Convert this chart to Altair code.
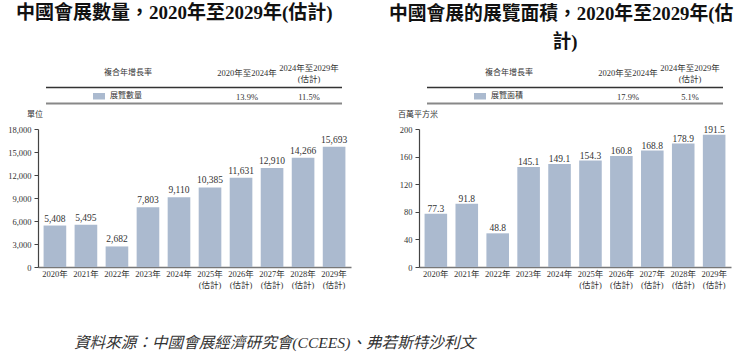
import altair as alt
import pandas as pd

# ---------------- data ----------------
years = ["2020年", "2021年", "2022年", "2023年", "2024年",
         "2025年\n(估計)", "2026年\n(估計)", "2027年\n(估計)", "2028年\n(估計)", "2029年\n(估計)"]
exhibitions = [5408, 5495, 2682, 7803, 9110, 10385, 11631, 12910, 14266, 15693]
exhibition_area = [77.3, 91.8, 48.8, 145.1, 149.1, 154.3, 160.8, 168.8, 178.9, 191.5]
left_ticks = [0, 3000, 6000, 9000, 12000, 15000, 18000]
right_ticks = [0, 40, 80, 120, 160, 200]
cagr_header = "複合年增長率"
cagr_period1 = "2020年至2024年"
cagr_period2 = ["2024年至2029年", "(估計)"]
left_series = "展覽數量"
right_series = "展覽面積"
left_cagr = ["13.9%", "11.5%"]
right_cagr = ["17.9%", "5.1%"]
left_title = "中國會展數量，2020年至2029年(估計)"
right_title_lines = ["中國會展的展覽面積，2020年至2029年(估", "計)"]
left_unit = "單位"
right_unit = "百萬平方米"
source = "資料來源：中國會展經濟研究會(CCEES)、弗若斯特沙利文"

# ---------------- style ----------------
W, H = 738, 357
BASE = 267
TOP = 129
SERIF = "Liberation Serif, Noto Sans CJK TC"
BAR = "#abbacf"
TXT = "#333333"


def panel(values, ticks, ymax, fmt, x0, x1, dy):
    df = pd.DataFrame({"year": years, "value": values})
    x = alt.X("year:N", sort=years,
              scale=alt.Scale(range=[x0, x1], paddingInner=0.27, paddingOuter=0.18),
              axis=alt.Axis(orient="bottom", offset=-(H - BASE), title=None, labelAngle=0,
                            ticks=False, labelExpr="split(datum.value, '\\n')",
                            labelFont=SERIF, labelFontSize=8.5, labelColor=TXT,
                            labelPadding=2, labelLineHeight=11.5,
                            domainColor="#777777", domainWidth=1.5))
    y = alt.Y("value:Q",
              scale=alt.Scale(domain=[0, ymax], range=[BASE, TOP], nice=False),
              axis=alt.Axis(orient="left", offset=-x0, values=ticks,
                            labelExpr="format(datum.value, ',')",
                            grid=False, title=None, tickSize=4, tickColor="#444444",
                            domainColor="#444444", domainWidth=1.2,
                            labelFont=SERIF, labelFontSize=8.5, labelColor=TXT,
                            labelPadding=3))
    bars = alt.Chart(df).mark_bar(color=BAR).encode(x=x, y=y)
    labels = alt.Chart(df).mark_text(font=SERIF, fontSize=9.5, color=TXT,
                                     baseline="alphabetic", dy=dy).encode(
        x=x, y=y, text=alt.Text("value:Q", format=fmt))
    return alt.layer(bars, labels)


def txt(s, x, y, size=8.5, align="center", baseline="middle", **kw):
    return alt.Chart(pd.DataFrame({"a": [0]})).mark_text(
        font=SERIF, fontSize=size, align=align, baseline=baseline, color=kw.pop("color", TXT), **kw
    ).encode(x=alt.value(x), y=alt.value(y), text=alt.value(s))


def rule(x1, x2, y, color, width):
    return alt.Chart(pd.DataFrame({"a": [0]})).mark_rule(color=color, strokeWidth=width).encode(
        x=alt.value(x1), x2=alt.value(x2), y=alt.value(y))


def swatch(x1, x2, y1, y2):
    return alt.Chart(pd.DataFrame({"a": [0]})).mark_rect(color=BAR).encode(
        x=alt.value(x1), x2=alt.value(x2), y=alt.value(y1), y2=alt.value(y2))


def table(off, series, cagr):
    return [
        txt(cagr_header, 128 + off, 72.5, size=8),
        txt(cagr_period1, 247 + off, 72.5),
        txt(cagr_period2[0], 309 + off, 67.5),
        txt(cagr_period2[1], 309 + off, 78.5),
        rule(46 + off, 342 + off, 87.5, "#333333", 1.3),
        swatch(93 + off, 105 + off, 93, 99.5),
        txt(series, 110 + off, 96, size=8, align="left"),
        txt(cagr[0], 247 + off, 96.5),
        txt(cagr[1], 309 + off, 96.5),
        rule(46 + off, 342 + off, 103.5, "#888888", 2),
    ]


left = panel(exhibitions, left_ticks, 18000, ",", 38, 351, -4)
right = panel(exhibition_area, right_ticks, 200, ".1f", 419, 731, -2)

annotations = (
    [txt(left_title, 16, 13, size=19, align="left", fontWeight="bold", color="#111111"),
     txt(right_title_lines[0], 389, 14, size=18.8, align="left", fontWeight="bold", color="#111111"),
     txt(right_title_lines[1], 565, 42, size=18.8, fontWeight="bold", color="#111111"),
     txt(left_unit, 27, 115, size=8, align="left"),
     txt(right_unit, 398, 115, size=8, align="left"),
     txt(source, 74, 343, size=15.6, align="left", fontStyle="italic")]
    + table(0, left_series, left_cagr)
    + table(381, right_series, right_cagr)
)

chart = alt.layer(left, right, *annotations).resolve_scale(
    x="independent", y="independent"
).resolve_axis(x="independent", y="independent").properties(
    width=W, height=H, autosize=alt.AutoSizeParams(type="none"), padding=0,
    background="white"
).configure_view(stroke=None)

chart.save("out.html", embed_options={"renderer": "svg", "actions": False})
